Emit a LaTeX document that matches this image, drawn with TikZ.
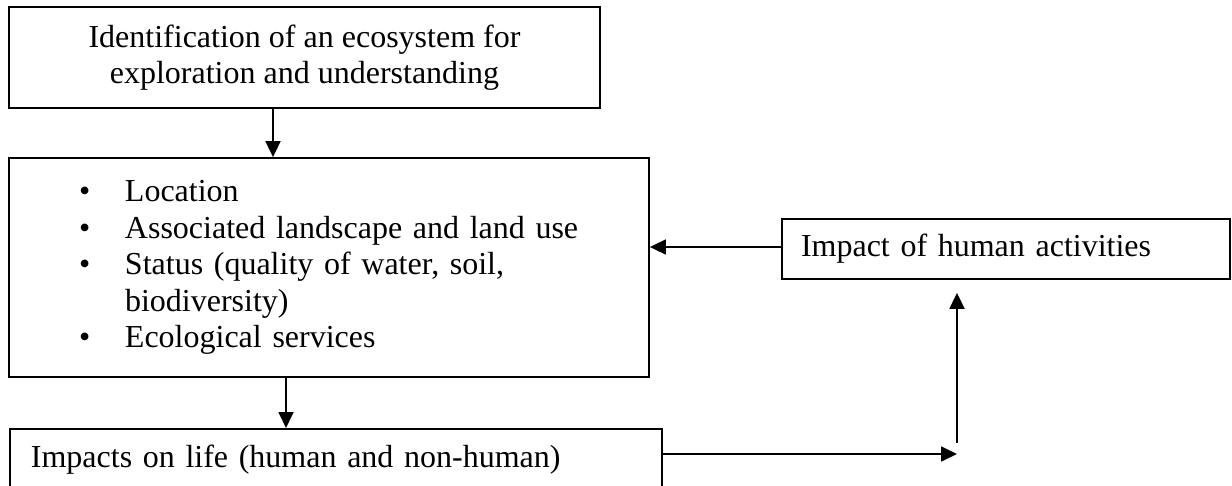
\documentclass[tikz,border=0pt]{standalone}
\usepackage{fontspec}
\setmainfont{Liberation Serif}
\usetikzlibrary{arrows.meta}

\begin{document}
\begin{tikzpicture}[
  x=0.5pt, y=-0.5pt,
  every node/.style={font=\fontsize{16}{18.25}\selectfont},
  box/.style={draw, line width=0.9pt, inner sep=0pt},
  arr/.style={->, line width=0.9pt},
  >={Triangle[length=8pt, width=7.5pt]}
]
\clip (0,0) rectangle (1232,486);
% Nodes
\node[box, minimum width=295.5pt, minimum height=50.5pt, align=center] (top) at (304.5,57.5)
  {Identification of an ecosystem for\\exploration and understanding};
\node[box, minimum height=109.5pt, text width=250pt, inner xsep=35pt, align=left] (mid) at (329,267.5)
  {\makebox[23pt][l]{\textbullet}Location\\
   \makebox[23pt][l]{\textbullet}Associated landscape and land use\\
   \makebox[23pt][l]{\textbullet}Status (quality of water, soil,\\
   \hspace*{23pt}biodiversity)\\
   \makebox[23pt][l]{\textbullet}Ecological services};
\node[box, minimum height=30pt, text width=205pt, inner xsep=9.5pt, align=left] (info) at (1006,249)
  {Impact of human activities};
\node[box, anchor=north west, text width=305pt, inner xsep=10.5pt, inner ysep=8pt, text depth=14pt, align=left] (life) at (9,428)
  {Impacts on life (human and non-human)};
\coordinate (turn) at (957,454);
% Arrows
\draw[arr] ([xshift=-15.75pt]top.south) -- ([xshift=-15.75pt]top.south |- mid.north);
\draw[arr] ([xshift=-21.5pt]mid.south) -- ([xshift=-21.5pt]mid.south |- life.north);
\draw[arr] ([yshift=1pt]info.west) -- ([yshift=1pt]info.west -| mid.east);
\draw[arr] (turn -| life.east) -- (turn);
\draw[arr, shorten >=6.5pt] ([yshift=5.5pt]turn) -- (turn |- info.south);
\end{tikzpicture}
\end{document}
